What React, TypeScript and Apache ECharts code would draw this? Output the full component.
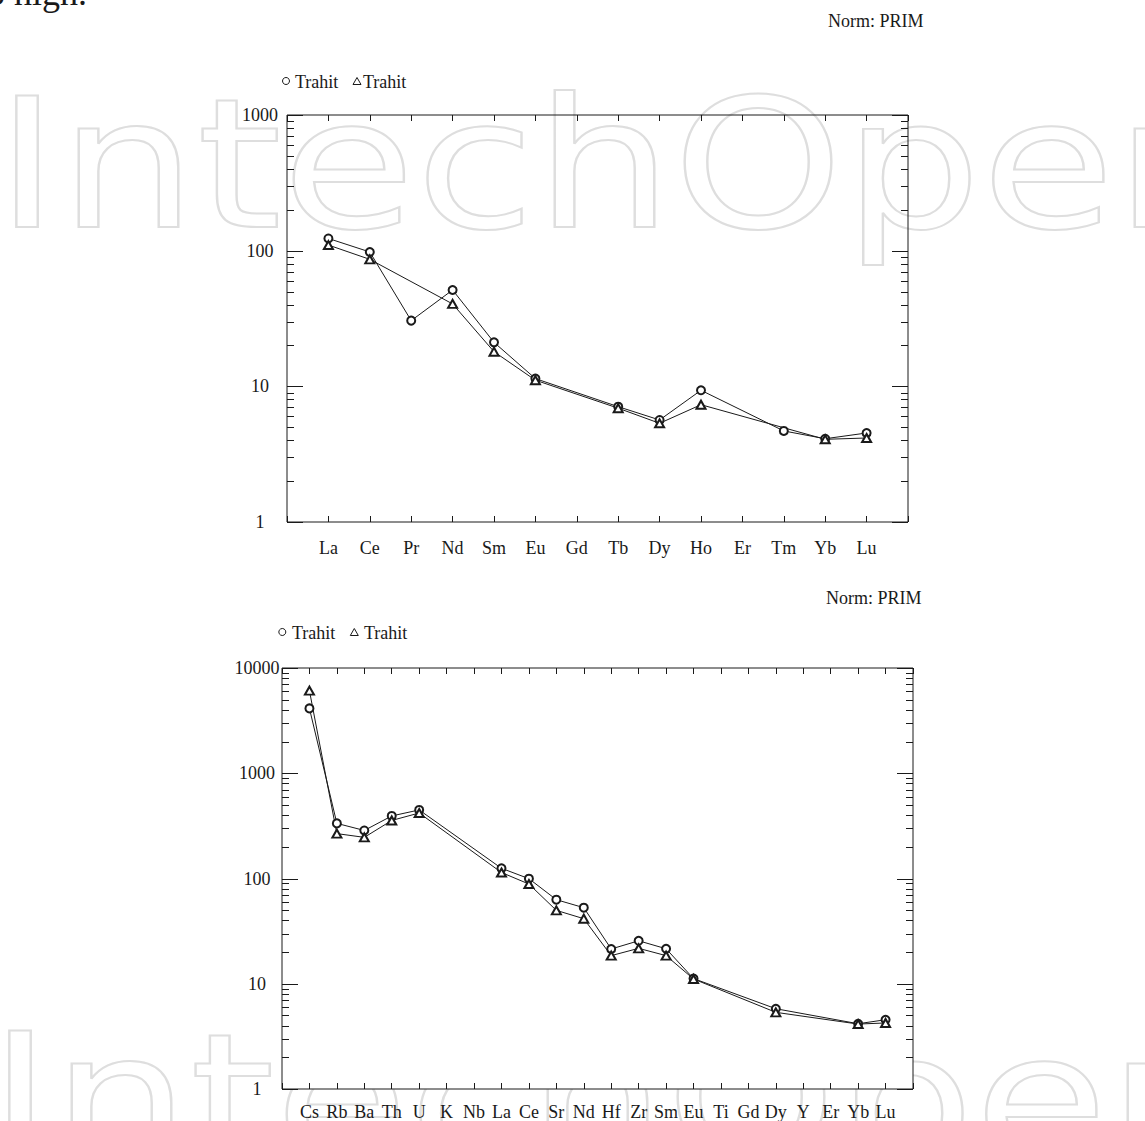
import React, { useEffect, useRef } from "react";
import * as echarts from "echarts";

// ---------- data ----------
const reeCategories = ["La", "Ce", "Pr", "Nd", "Sm", "Eu", "Gd", "Tb", "Dy", "Ho", "Er", "Tm", "Yb", "Lu"];
const reeCircle = [123, 97.8, 30.5, 51.3, 21.1, 11.4, null, 7.08, 5.65, 9.35, null, 4.69, 4.11, 4.53];
const reeTriangle = [110, 86.3, null, 40.5, 18.0, 11.1, null, 6.9, 5.34, 7.32, null, null, 4.07, 4.16];
const reeYTicks = [1, 10, 100, 1000];
const reeYLabels = ["1", "10", "100", "1000"];

const spiderCategories = ["Cs", "Rb", "Ba", "Th", "U", "K", "Nb", "La", "Ce", "Sr", "Nd", "Hf", "Zr", "Sm", "Eu", "Ti", "Gd", "Dy", "Y", "Er", "Yb", "Lu"];
const spiderCircle = [4130, 334, 286, 393, 448, null, null, 125, 99.6, 62.9, 52.8, 21.4, 25.6, 21.5, 11.2, null, null, 5.79, null, null, 4.17, 4.55];
const spiderTriangle = [6090, 267, 246, 356, 419, null, null, 114, 88.6, 49.8, 41.5, 18.5, 21.7, 18.5, 11.1, null, null, 5.35, null, null, 4.14, 4.24];
const spiderYTicks = [1, 10, 100, 1000, 10000];
const spiderYLabels = ["1", "10", "100", "1000", "10000"];

const seriesName = "Trahit";
const normText = "Norm: PRIM";
const watermarkText = "IntechOpen";
const pageText = "to high.";

const FONT = "Liberation Serif";
const INK = "#1a1a1a";

function pad<T>(arr: T[], blank: T): T[] {
  return [blank, ...arr, blank];
}

function tickSeries(axisIndex: number, majors: number[]) {
  const data: number[][] = [];
  for (let d = 0; d < majors.length; d++) {
    data.push([0, majors[d], 1]);
    if (d < majors.length - 1) {
      for (let k = 2; k <= 9; k++) data.push([0, majors[d] * k, 0]);
    }
  }
  return {
    type: "custom",
    xAxisIndex: axisIndex * 2,
    yAxisIndex: axisIndex,
    silent: true,
    z: 3,
    data,
    renderItem: (params: any, api: any) => {
      const y = Math.round(api.coord([0, api.value(1)])[1]) + 0.5;
      const cs = params.coordSys;
      const len = api.value(2) ? 16 : 7;
      const st = { stroke: INK, lineWidth: 1 };
      return {
        type: "group",
        children: [
          { type: "line", shape: { x1: cs.x, y1: y, x2: cs.x + len, y2: y }, style: st },
          { type: "line", shape: { x1: cs.x + cs.width - len, y1: y, x2: cs.x + cs.width, y2: y }, style: st },
        ],
      };
    },
  };
}

function xAxes(gridIndex: number, cats: string[], margin: number) {
  const base = {
    type: "category",
    gridIndex,
    data: pad(cats, ""),
    boundaryGap: false,
    axisLine: { show: false },
    splitLine: { show: false },
    axisTick: { show: true, inside: true, length: 6, interval: 0, lineStyle: { color: INK, width: 1 } },
  };
  return [
    {
      ...base,
      position: "bottom",
      axisLabel: { interval: 0, margin, color: INK, fontFamily: FONT, fontSize: 18, hideOverlap: false },
    },
    { ...base, position: "top", axisLabel: { show: false } },
  ];
}

function yAxis(gridIndex: number, ticks: number[], labels: string[], margin: number) {
  return {
    type: "log",
    logBase: 10,
    gridIndex,
    min: ticks[0],
    max: ticks[ticks.length - 1],
    axisLine: { show: false },
    axisTick: { show: false },
    splitLine: { show: false },
    axisLabel: {
      margin,
      align: "center",
      color: INK,
      fontFamily: FONT,
      fontSize: 18,
      formatter: (v: number) => {
        const i = ticks.findIndex((t) => Math.abs(t - v) / t < 1e-6);
        return i >= 0 ? labels[i] : "";
      },
    },
  };
}

function lineSeries(axisIndex: number, data: (number | null)[], symbol: string, size: any) {
  return {
    type: "line",
    name: seriesName,
    xAxisIndex: axisIndex * 2,
    yAxisIndex: axisIndex,
    data: pad(data, null),
    connectNulls: true,
    symbol,
    symbolSize: size,
    showAllSymbol: true,
    z: 4,
    lineStyle: { color: INK, width: 1 },
    itemStyle: { color: INK, borderColor: INK, borderWidth: 1 },
  };
}

function legendGraphic(cx: number, cy: number, tx: number, tx2: number, triX: number) {
  const ts = { fill: INK, font: `18px "${FONT}"`, verticalAlign: "middle", textAlign: "left" };
  return [
    { type: "circle", shape: { cx, cy, r: 3.5 }, style: { fill: "#fff", stroke: INK, lineWidth: 1 } },
    { type: "text", x: tx, y: cy + 1, style: { ...ts, text: seriesName } },
    {
      type: "polygon",
      shape: { points: [[triX - 4, cy + 3.5], [triX, cy - 3.5], [triX + 4, cy + 3.5]] },
      style: { fill: "#fff", stroke: INK, lineWidth: 1 },
    },
    { type: "text", x: tx2, y: cy + 1, style: { ...ts, text: seriesName } },
  ];
}

export default function App() {
  const ref = useRef<HTMLDivElement>(null);

  useEffect(() => {
    if (!ref.current) return;
    const chart = echarts.init(ref.current, null, { renderer: "svg" });
    const watermarkStyle = {
      text: watermarkText,
      font: '181px "DejaVu Sans"',
      fill: "rgba(0,0,0,0)",
      stroke: "#dedede",
      lineWidth: 2,
      textAlign: "left",
      verticalAlign: "middle",
    };
    const gridCommon = { show: true, borderColor: INK, borderWidth: 1, containLabel: false, outerBoundsMode: "none" };
    const option: any = {
      animation: false,
      backgroundColor: "#fff",
      grid: [
        { ...gridCommon, left: 287, top: 115, width: 621, height: 407, backgroundColor: "transparent" },
        { ...gridCommon, left: 282, top: 668, width: 631, height: 421, backgroundColor: "#fff" },
      ],
      xAxis: [...xAxes(0, reeCategories, 17), ...xAxes(1, spiderCategories, 14)],
      yAxis: [yAxis(0, reeYTicks, reeYLabels, 27), yAxis(1, spiderYTicks, spiderYLabels, 25)],
      series: [
        tickSeries(0, reeYTicks),
        tickSeries(1, spiderYTicks),
        lineSeries(0, reeCircle, "emptyCircle", 8),
        lineSeries(0, reeTriangle, "emptyTriangle", [9, 8]),
        lineSeries(1, spiderCircle, "emptyCircle", 8),
        lineSeries(1, spiderTriangle, "emptyTriangle", [9, 8]),
      ],
      graphic: [
        { type: "text", x: -5, y: 164, scaleX: 1.2, z: -10, silent: true, style: watermarkStyle },
        { type: "text", x: -12, y: 1099, scaleX: 1.2, z: -10, silent: true, style: watermarkStyle },
        {
          type: "text", x: 87, y: 11,
          style: { text: pageText, font: `36px "${FONT}"`, fill: INK, textAlign: "right", verticalAlign: "bottom" },
        },
        { type: "text", x: 828, y: 21, style: { text: normText, font: `18px "${FONT}"`, fill: INK, verticalAlign: "middle" } },
        { type: "text", x: 826, y: 598, style: { text: normText, font: `18px "${FONT}"`, fill: INK, verticalAlign: "middle" } },
        ...legendGraphic(286, 81, 295, 363, 357),
        ...legendGraphic(282.3, 632, 292, 364, 354.3),
      ],
    };
    chart.setOption(option);
    return () => chart.dispose();
  }, []);

  return <div ref={ref} style={{ position: "absolute", left: 0, top: 0, width: 1145, height: 1121 }} />;
}
